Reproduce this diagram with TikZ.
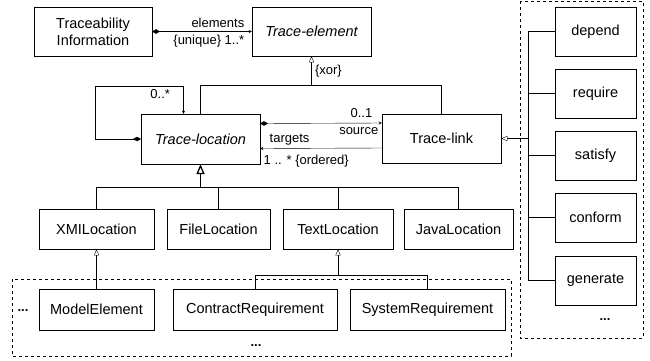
\documentclass[tikz,border=0pt]{standalone}
\usepackage{fontspec}
\setmainfont{Liberation Sans}
\usetikzlibrary{positioning,arrows,shapes}
\tikzset{
line width=0.8pt,
>=stealth,
every node/.style={font=\fontsize{13}{15}\selectfont},
class/.style={draw,rectangle,inner sep=1mm,minimum height=49pt,align=center,font=\fontsize{14.5}{17}\selectfont},
abstract/.style={class,font=\fontsize{14.5}{17}\selectfont\itshape},
group/.style={draw,dashed},
gen/.style={-open triangle 45},
comp/.style={diamond->}
}
\begin{document}
\begin{tikzpicture}[x=1pt,y=-1pt]
\useasboundingbox (0,0) rectangle (650,360);
\node[class,minimum width=118pt] (info) at (93,31.5) {Traceability\\Information};
\node[abstract,minimum width=119pt] (elem) at (311.5,31.5) {Trace-element};
\node[abstract,minimum width=119pt,minimum height=50pt] (loc) at (200.5,139) {Trace-location};
\node[class,minimum width=119pt] (link) at (441.5,138.5) {Trace-link};

\node[class,minimum width=115pt,minimum height=40pt] (xmi) at (96.5,229) {XMILocation};
\node[class,minimum width=103pt,minimum height=40pt] (file) at (218.5,229) {FileLocation};
\node[class,minimum width=110pt,minimum height=40pt] (text) at (338,229) {TextLocation};
\node[class,minimum width=109pt,minimum height=40pt] (java) at (458.5,229) {JavaLocation};

\node[class,minimum width=115pt,minimum height=41pt] (model) at (96.5,309.5) {ModelElement};
\node[class,minimum width=164pt,minimum height=41pt] (con) at (255,309.5) {ContractRequirement};
\node[class,minimum width=155pt,minimum height=41pt] (sys) at (427.5,309.5) {SystemRequirement};

\node[class,minimum width=81pt] (dep) at (595.5,31.5) {depend};
\node[class,minimum width=81pt] (req) at (595.5,93.5) {require};
\node[class,minimum width=81pt] (sat) at (595.5,155.5) {satisfy};
\node[class,minimum width=81pt] (conf) at (595.5,217.5) {conform};
\node[class,minimum width=81pt] (gener) at (595.5,280.5) {generate};

\node (dotsr) at (605,320) {\textbf{...}};
\node (dotsb) at (256,346) {\textbf{...}};
\node (dotsl) at (23,311) {\textbf{...}};

\coordinate (xor) at ([yshift=-29pt]elem.south);
\coordinate (hub) at ([xshift=27pt]link.east);
\coordinate (fork) at ([yshift=-23pt]loc.south);
\coordinate (tfork) at ([yshift=-26pt]text.south);

\draw[group] (12,279) rectangle (511,356);
\draw[group] (520,1) rectangle (643,338);

\path (info) edge[comp] node[pos=1,above left,xshift=-4pt]{elements} node[pos=1,below left,xshift=-4pt]{\{unique\} 1..*} (elem);
\draw[comp] (loc.west) -| ++(-46,-53) -| node[pos=0.5,below left,xshift=-10pt]{0..*} ([xshift=-17pt]loc.north);
\draw[comp] ([yshift=15.5pt]loc.east) -- node[pos=1,above left,xshift=-6pt,yshift=2pt]{0..1} node[pos=1,below left,yshift=-1pt]{source} ([yshift=15.5pt]link.west);
\draw[->] ([yshift=-9.5pt]link.west) -- node[pos=1,above right,xshift=6pt]{targets} node[pos=1,below right,yshift=-3pt]{1 .. * \{ordered\}} ([yshift=-9.5pt]loc.east);

\draw (loc.north) |- (xor) -| (link.north);
\draw[gen] (xor) -- node[right]{\{xor\}} (elem.south);

\draw[gen] (hub) -- (link.east);
\draw (dep.west) -| (hub);
\draw (req.west) -| (hub);
\draw (sat.west) -| (hub);
\draw (conf.west) -| (hub);
\draw (gener.west) -| (hub);

\draw[gen,line width=1.3pt] (fork) -- (loc.south);
\draw (xmi.north) |- (fork);
\draw (file.north) |- (fork);
\draw (text.north) |- (fork);
\draw (java.north) |- (fork);

\draw[gen] (model) -- (xmi);
\draw (con.north) |- (tfork) -| (sys.north);
\draw[gen] (tfork) -- (text.south);
\end{tikzpicture}
\end{document}
